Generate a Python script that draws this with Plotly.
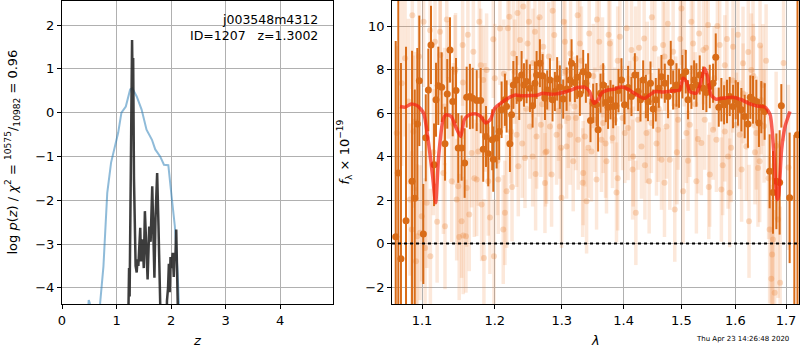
import plotly.graph_objects as go
import math

# ---------------- left panel: p(z) ----------------
blue_z = [0.40, 0.49, 0.51, 0.55, 0.66, 0.70, 0.76, 0.83, 0.90, 0.97, 1.03, 1.09, 1.17, 1.25, 1.29,
          1.37, 1.46, 1.55, 1.65, 1.71, 1.80, 1.87, 1.95, 2.01, 2.07, 2.12, 2.15, 2.20]
blue_logp = [-6, -4.28, -4.35, -6, -6, -4.34, -3.51, -1.83, -1.14, -0.77, -0.46, 0.0, 0.14, 0.53, 0.56,
             0.37, 0.07, -0.39, -0.62, -0.84, -1.0, -1.19, -1.2, -1.91, -2.6, -3.65, -4.34, -6]

black_z = [1.20, 1.225, 1.23, 1.24, 1.255, 1.27, 1.285, 1.295, 1.305, 1.32, 1.35, 1.37, 1.385, 1.40,
           1.415, 1.435, 1.45, 1.465, 1.48, 1.50, 1.52, 1.54, 1.57, 1.60, 1.625, 1.655, 1.68, 1.695,
           1.715, 1.745, 1.77, 1.79, 1.81, 1.83, 1.91, 1.925, 1.945, 1.96, 1.975, 1.99, 2.01, 2.03,
           2.05, 2.065, 2.08, 2.095, 2.11, 2.13, 2.15]
black_logp = [-6, -4.4, -3.55, -4.2, -2.0, 0.5, 1.66, 0.6, 1.25, -1.5, -3.5, -3.65, -3.35, -3.5,
              -3.0, -2.63, -3.4, -2.9, -2.95, -3.55, -2.25, -2.85, -3.81, -2.6, -2.95, -1.68, -3.0, -3.77,
              -2.4, -1.38, -2.6, -3.6, -4.3, -6, -6, -4.3, -4.0, -3.45, -4.1, -3.3, -3.55, -3.2,
              -3.75, -3.2, -3.3, -2.67, -3.6, -4.3, -6]

left_xticks = [0, 1, 2, 3, 4]
left_yticks = [-4, -3, -2, -1, 0, 1, 2]

# ---------------- right panel: spectrum ----------------
# binned (dark) spectrum
dark_wave = [1.0659, 1.0692, 1.0726, 1.0791, 1.0869, 1.0904, 1.0938, 1.0964, 1.1017, 1.1049, 1.1083,
             1.1118, 1.1159, 1.1185, 1.1216, 1.1261, 1.1306, 1.1337, 1.1374, 1.1411, 1.1456, 1.1487,
             1.1533, 1.1575, 1.1603, 1.1648, 1.1687, 1.1743, 1.1799, 1.1835, 1.1874, 1.1906, 1.1963,
             1.1978, 1.2026, 1.2063, 1.2098, 1.2146, 1.2171, 1.2219, 1.2243, 1.2269, 1.2318, 1.2356,
             1.2391, 1.2426, 1.2465, 1.2515, 1.2555, 1.2590, 1.2615, 1.2665, 1.2706, 1.2742, 1.2776,
             1.2818, 1.2858, 1.2894, 1.2929, 1.2971, 1.3023, 1.3076, 1.3128, 1.3154, 1.3206, 1.3242,
             1.3285, 1.3338, 1.3381, 1.3417, 1.3455, 1.3498, 1.3553, 1.3578, 1.3617, 1.3661, 1.3704,
             1.3741, 1.3781, 1.3825, 1.3869, 1.3913, 1.3963, 1.4014, 1.4074, 1.4131, 1.4188, 1.4243,
             1.4284, 1.4330, 1.4376, 1.4414, 1.4456, 1.4502, 1.4548, 1.4601, 1.4647, 1.4706, 1.4763,
             1.4811, 1.4853, 1.4912, 1.4958, 1.5019, 1.5079, 1.5120, 1.5181, 1.5230, 1.5272, 1.5333,
             1.5395, 1.5456, 1.5518, 1.5580, 1.5630, 1.5686, 1.5735, 1.5786, 1.5841, 1.5893, 1.5956,
             1.6007, 1.6051, 1.6116, 1.6180, 1.6243, 1.6290, 1.6342, 1.6407, 1.6458, 1.6505, 1.6571,
             1.6670, 1.6737, 1.6805, 1.6871, 1.6905, 1.7074, 1.7170, 1.7235]
dark_flux = [0.31, 3.24, -0.70, 1.05, 2.86, 2.08, 5.49, 7.48, 0.44, 4.86, 7.06,
             9.13, 3.62, 6.61, 7.25, 7.19, 4.59, 6.88, 8.90, 6.53, 7.03, 4.39,
             4.39, 3.70, 6.73, 6.76, 6.68, 6.57, 6.57, 4.34, 4.92, 4.13, 4.77,
             3.88, 4.85, 5.15, 6.15, 6.61, 6.30, 4.59, 5.92, 7.29, 7.52, 6.68,
             7.75, 7.29, 7.45, 7.14, 6.33, 7.37, 7.75, 8.29, 7.71, 6.68, 7.06,
             7.52, 6.61, 6.99, 7.57, 7.19, 6.64, 7.10, 7.52, 8.29, 7.40, 7.65,
             6.87, 7.90, 7.37, 7.75, 5.66, 6.45, 6.38, 5.23, 6.91, 7.29, 6.48,
             6.27, 6.61, 6.30, 6.33, 7.03, 7.52, 6.38, 7.17, 6.76, 7.75, 6.99,
             6.61, 7.52, 6.76, 6.53, 7.37, 6.18, 6.61, 7.14, 7.67, 7.37, 6.76,
             8.32, 7.06, 7.29, 7.14, 7.67, 7.90, 6.61, 7.19, 7.52, 7.29, 7.75,
             7.14, 6.94, 7.22, 7.37, 8.56, 6.27, 6.61, 6.38, 6.53, 6.76, 6.30,
             6.61, 6.42, 6.15, 5.84, 5.50, 6.73, 6.61, 6.53, 5.54, 6.27, 6.07,
             3.32, 2.35, 2.86, 2.81, 6.33, 2.10, -4.0, 5.0]
dark_err = [9.0, 9.0, 9.0, 8.0, 6.0, 5.0, 3.5, 3.0, 2.3, 2.0, 1.9,
            1.8, 1.9, 1.7, 1.8, 1.6, 1.7, 1.6, 1.5, 1.6, 1.5, 1.6,
            1.5, 1.6, 1.4, 1.5, 1.4, 1.4, 1.5, 1.5, 1.4, 1.5, 1.4,
            1.5, 1.4, 1.3, 1.3, 1.2, 1.2, 1.3, 1.2, 1.1, 1.1, 1.0,
            1.1, 1.0, 1.0, 1.1, 1.0, 1.0, 1.1, 1.1, 1.0, 1.0, 0.9,
            1.0, 1.0, 0.9, 1.0, 1.0, 0.9, 1.0, 1.0, 1.1, 0.9, 1.0,
            1.0, 1.0, 0.9, 1.0, 1.0, 0.9, 1.0, 1.0, 0.9, 1.0, 0.9,
            1.0, 0.9, 1.0, 0.9, 1.0, 1.0, 0.9, 1.0, 0.9, 1.0, 0.9,
            1.0, 0.9, 1.0, 0.9, 1.0, 0.9, 1.0, 0.9, 1.0, 0.9, 1.0,
            1.0, 0.9, 1.0, 0.9, 1.0, 1.0, 0.9, 1.0, 0.9, 1.0, 0.9,
            1.0, 0.9, 1.0, 0.9, 1.1, 0.9, 1.0, 0.9, 1.0, 0.9, 1.0,
            0.9, 1.0, 1.0, 1.0, 1.1, 1.0, 1.1, 1.0, 1.1, 1.2, 1.3,
            1.7, 1.9, 2.2, 2.4, 1.0, 3.0, 9.0, 8.0]

# individual-exposure (light) spectrum
light_wave = [1.0672, 1.0735, 1.0779, 1.0822, 1.0843, 1.0865, 1.0873, 1.0886, 1.0908, 1.0921, 1.0938,
              1.0973, 1.0995, 1.1040, 1.1062, 1.1106, 1.1110, 1.1172, 1.1239, 1.1243, 1.1284, 1.1306,
              1.1352, 1.1397, 1.1442, 1.1465, 1.1487, 1.1533, 1.1547, 1.1555, 1.1593, 1.1603, 1.1639,
              1.1672, 1.1696, 1.1743, 1.1766, 1.1812, 1.1835, 1.1845, 1.1883, 1.1906, 1.1978, 1.1988,
              1.2050, 1.2074, 1.2122, 1.2146, 1.2171, 1.2210, 1.2234, 1.2269, 1.2318, 1.2342, 1.2367,
              1.2416, 1.2441, 1.2480, 1.2515, 1.2555, 1.2590, 1.2615, 1.2640, 1.2680, 1.2716, 1.2742,
              1.2767, 1.2818, 1.2843, 1.2884, 1.2920, 1.2971, 1.2997, 1.3050, 1.3076, 1.3102, 1.3138,
              1.3180, 1.3222, 1.3259, 1.3285, 1.3338, 1.3365, 1.3392, 1.3434, 1.3471, 1.3526, 1.3553,
              1.3596, 1.3633, 1.3661, 1.3715, 1.3770, 1.3814, 1.3853, 1.3880, 1.3936, 1.3980, 1.4019,
              1.4074, 1.4131, 1.4160, 1.4205, 1.4243, 1.4301, 1.4347, 1.4387, 1.4433, 1.4473, 1.4531,
              1.4589, 1.4647, 1.4676, 1.4735, 1.4794, 1.4853, 1.4882, 1.4942, 1.5001, 1.5031, 1.5091,
              1.5151, 1.5211, 1.5272, 1.5321, 1.5363, 1.5425, 1.5487, 1.5518, 1.5580, 1.5642, 1.5704,
              1.5735, 1.5799, 1.5862, 1.5893, 1.5956, 1.6020, 1.6084, 1.6148, 1.6212, 1.6264, 1.6309,
              1.6342, 1.6407, 1.6440, 1.6473, 1.6538, 1.6670, 1.6704, 1.6737, 1.6771, 1.6838,
              1.2290, 1.2460, 1.2560, 1.2700, 1.2800, 1.2950, 1.3060, 1.3200, 1.3310, 1.3500, 1.3650,
              1.3800, 1.3900, 1.4100, 1.4200, 1.4400, 1.4600, 1.4700, 1.4900, 1.5050, 1.5250, 1.5400,
              1.5600, 1.5800, 1.5950, 1.6150, 1.6350, 1.6500, 1.1550, 1.1800, 1.2000, 1.1300, 1.1450,
              1.2130,
              1.0960, 1.1020, 1.1150, 1.1200, 1.1330, 1.1420, 1.1500, 1.1620, 1.1710, 1.1780, 1.1860,
              1.1930, 1.2040, 1.2190, 1.2250, 1.2330, 1.2400, 1.2500, 1.2600, 1.2660, 1.2750, 1.2860,
              1.2990, 1.3030, 1.3130, 1.3250, 1.3330, 1.3420, 1.3560, 1.3700, 1.3750, 1.3900, 1.4050,
              1.4150, 1.4260, 1.4360, 1.4480, 1.4560, 1.4700, 1.4760, 1.4920, 1.4980, 1.5120, 1.5180,
              1.5300, 1.5450, 1.5500, 1.5660, 1.5760, 1.5840, 1.5920, 1.6050, 1.6120, 1.6250, 1.6380,
              1.6480, 1.6560, 1.6600, 1.6650, 1.6720, 1.6800, 1.6880, 1.6950, 1.7050]
light_flux = [5.08, 7.37, 8.52, 6.53, 2.02, 0.64, 10.5, 5.15, 5.61, -0.81, 0.34,
              0.50, 1.25, -0.20, 1.87, 9.80, -0.58, 9.28, 9.74, 8.67, 3.24, 0.80,
              7.52, 2.86, 7.90, 2.02, 2.63, 1.02, 9.13, 0.37, 0.34, 2.55, 1.33,
              4.16, 8.82, 2.94, 4.23, 1.79, 7.52, -0.66, 7.98, 2.86, 9.39, -0.58,
              2.94, 9.89, 0.64, 1.41, 2.40, 10.43, 5.15, 8.74, 5.00, 3.55, 9.36,
              10.9, 3.93, 9.20, 5.38, 4.00, 9.74, 4.92, 8.13, 5.46, 9.05, 2.78,
              4.23, 5.38, 3.17, 9.59, 5.00, 5.38, 2.10, 9.28, 4.46, 5.77, 8.74,
              3.78, 5.77, 4.77, 9.20, 3.24, 4.92, 1.94, 9.66, 4.23, 5.69, 2.94,
              9.28, 4.77, 5.54, 3.78, 9.20, 4.85, 5.69, 2.35, 9.51, 5.77, 5.08,
              5.31, 8.90, 4.00, 1.41, 5.69, 4.46, 9.43, 5.08, 2.86, 5.54, 8.97,
              5.23, 3.85, 9.13, 5.38, 3.85, 8.82, 1.56, 5.69, 10.81, 2.40, 5.08,
              5.46, 9.20, 2.86, 9.66, 4.62, 5.69, 10.05, 3.17, 5.23, 4.77, 9.13,
              2.48, 5.15, 4.00, 2.33, 9.05, 5.46, 5.00, 8.29, 4.46, 1.02, 7.98,
              9.43, 5.08, 3.47, 3.78, 7.29, 0.64, -1.62, 0.18, -2.26, 1.10,
              7.9, 6.2, 8.3, 6.4, 8.6, 6.1, 7.9, 6.3, 8.4, 7.7, 8.1,
              7.0, 8.4, 6.1, 8.5, 7.9, 6.2, 8.6, 6.3, 8.8, 6.4, 8.9,
              7.6, 8.2, 7.5, 6.9, 7.7, 6.6, 7.4, 8.2, 7.6, 6.3, 8.0,
              7.8,
              8.6, 10.2, 4.2, 1.0, 10.3, 5.5, 0.3, 9.6, 3.0, 10.2, 5.8,
              1.2, 3.8, 9.9, 2.6, 10.6, 4.6, 10.2, 3.2, 10.4, 4.2, 10.7,
              4.4, 10.2, 5.0, 10.5, 2.8, 4.4, 10.3, 4.6, 9.6, 3.0, 9.9,
              3.4, 9.0, 3.6, 10.4, 4.6, 2.8, 10.1, 4.2, 9.4, 3.8, 10.2,
              4.8, 9.0, 2.6, 10.0, 3.6, 9.4, 4.4, 9.6, 3.4, 8.8, 4.2,
              9.1, 5.4, 8.4, 3.0, -0.5, 4.5, -1.8, 8.3, 3.5]
light_err = [4.0, 3.8, 3.6, 3.8, 3.5, 3.6, 3.4, 3.5, 3.2, 3.4, 3.3,
             3.1, 3.0, 3.2, 3.0, 2.9, 3.1, 2.8, 2.9, 2.7, 2.8, 2.9,
             2.7, 2.8, 2.6, 2.8, 2.7, 2.6, 2.8, 2.7, 2.6, 2.7, 2.6,
             2.5, 2.7, 2.6, 2.5, 2.6, 2.5, 2.7, 2.6, 2.5, 2.7, 2.6,
             2.5, 2.6, 2.5, 2.4, 2.6, 2.5, 2.4, 2.5, 2.4, 2.3, 2.5,
             2.4, 2.3, 2.5, 2.4, 2.3, 2.5, 2.4, 2.3, 2.4, 2.5, 2.3,
             2.4, 2.3, 2.4, 2.5, 2.3, 2.4, 2.3, 2.5, 2.4, 2.3, 2.4,
             2.3, 2.4, 2.3, 2.5, 2.4, 2.3, 2.4, 2.5, 2.3, 2.4, 2.3,
             2.5, 2.4, 2.3, 2.4, 2.5, 2.3, 2.4, 2.3, 2.5, 2.4, 2.3,
             2.4, 2.5, 2.3, 2.4, 2.3, 2.4, 2.5, 2.3, 2.4, 2.3, 2.5,
             2.4, 2.3, 2.5, 2.4, 2.3, 2.5, 2.4, 2.3, 2.6, 2.4, 2.3,
             2.4, 2.5, 2.4, 2.5, 2.4, 2.3, 2.6, 2.4, 2.3, 2.4, 2.5,
             2.4, 2.3, 2.4, 2.5, 2.5, 2.4, 2.5, 2.6, 2.5, 2.6, 2.6,
             2.7, 2.6, 2.7, 2.8, 2.8, 3.4, 3.6, 3.5, 3.8, 3.6,
             2.4, 2.3, 2.5, 2.4, 2.5, 2.3, 2.4, 2.3, 2.5, 2.4, 2.3,
             2.4, 2.5, 2.3, 2.4, 2.3, 2.4, 2.5, 2.3, 2.5, 2.4, 2.5,
             2.4, 2.3, 2.4, 2.3, 2.4, 2.5, 2.6, 2.6, 2.5, 2.7, 2.6,
             2.5,
             3.2, 3.0, 2.9, 2.8, 2.7, 2.8, 2.9, 2.6, 2.7, 2.6, 2.5,
             2.6, 2.5, 2.6, 2.5, 2.4, 2.5, 2.4, 2.6, 2.4, 2.5, 2.3,
             2.4, 2.5, 2.3, 2.4, 2.5, 2.3, 2.4, 2.5, 2.3, 2.4, 2.5,
             2.3, 2.4, 2.5, 2.3, 2.4, 2.5, 2.3, 2.4, 2.5, 2.3, 2.4,
             2.5, 2.3, 2.4, 2.5, 2.3, 2.4, 2.5, 2.3, 2.4, 2.5, 2.4,
             2.5, 2.6, 2.6, 2.8, 3.2, 3.4, 3.5, 3.6, 3.8]

# best-fit model
model_wave = [1.0714, 1.078, 1.086, 1.094, 1.102, 1.108, 1.114, 1.118, 1.122, 1.128, 1.132, 1.139,
              1.145, 1.152, 1.157, 1.164, 1.173, 1.180, 1.187, 1.194, 1.200, 1.212, 1.222, 1.230,
              1.240, 1.252, 1.262, 1.271, 1.282, 1.292, 1.302, 1.312, 1.325, 1.336, 1.344, 1.351,
              1.358, 1.363, 1.374, 1.385, 1.393, 1.404, 1.416, 1.427, 1.435, 1.444, 1.453, 1.467,
              1.485, 1.497, 1.503, 1.509, 1.515, 1.527, 1.535, 1.542, 1.548, 1.554, 1.563, 1.576,
              1.595, 1.612, 1.628, 1.641, 1.658, 1.668, 1.675, 1.682, 1.685, 1.691, 1.698, 1.708]
model_flux = [6.30, 6.27, 6.42, 6.33, 6.00, 4.77, 3.09, 1.87, 4.00, 5.69, 5.92, 5.84,
              5.38, 4.92, 5.69, 5.92, 5.96, 5.84, 5.54, 5.72, 6.22, 6.53, 6.73, 6.83,
              6.79, 6.80, 6.82, 6.91, 6.87, 6.88, 6.94, 7.03, 7.17, 7.19, 6.99, 6.45,
              6.61, 6.91, 7.06, 7.10, 7.19, 7.14, 6.94, 6.76, 6.67, 6.83, 6.99, 6.97,
              7.02, 7.06, 7.60, 7.45, 6.99, 6.91, 7.37, 8.06, 7.67, 6.83, 6.64, 6.68,
              6.73, 6.61, 6.42, 6.33, 6.27, 5.92, 4.31, 2.02, 2.20, 4.31, 5.38, 6.07]

right_xticks = [1.1, 1.2, 1.3, 1.4, 1.5, 1.6, 1.7]
right_yticks = [-2, 0, 2, 4, 6, 8, 10]

DARK = "rgb(217,108,24)"
FONT = "DejaVu Sans"

fig = go.Figure()

# left panel
fig.add_trace(go.Scatter(x=blue_z, y=blue_logp, mode="lines",
                         line=dict(color="rgba(31,119,180,0.5)", width=2),
                         xaxis="x", yaxis="y", showlegend=False))
fig.add_trace(go.Scatter(x=black_z, y=black_logp, mode="lines",
                         line=dict(color="rgba(40,40,40,0.9)", width=2.5),
                         xaxis="x", yaxis="y", showlegend=False))

# right panel
fig.add_trace(go.Scatter(x=light_wave, y=light_flux, mode="markers",
                         marker=dict(color="rgba(235,130,50,0.28)", size=6),
                         error_y=dict(type="data", array=light_err, thickness=3.5, width=0,
                                      color="rgba(240,140,70,0.2)"),
                         xaxis="x2", yaxis="y2", showlegend=False))
fig.add_trace(go.Scatter(x=dark_wave, y=dark_flux, mode="markers",
                         marker=dict(color=DARK, size=7),
                         error_y=dict(type="data", array=dark_err, thickness=2, width=0, color=DARK),
                         xaxis="x2", yaxis="y2", showlegend=False))
fig.add_trace(go.Scatter(x=model_wave, y=model_flux, mode="lines",
                         line=dict(color="rgba(245,35,20,0.72)", width=3.5, shape="spline", smoothing=0.6),
                         xaxis="x2", yaxis="y2", showlegend=False))

fig.add_shape(type="line", xref="x2 domain", yref="y2", x0=0, x1=1, y0=0, y1=0,
              line=dict(color="black", width=2, dash="dot"), layer="above")

axis_common = dict(showline=True, mirror=True, linecolor="black", linewidth=1,
                   ticks="outside", ticklen=4, tickcolor="black",
                   showgrid=True, gridcolor="#b0b0b0", gridwidth=1, zeroline=False,
                   automargin=False,
                   tickfont=dict(family=FONT, size=13, color="black"))

lo = math.log10(1.0612)
hi = math.log10(1.7266)

fig.update_layout(
    width=800, height=350,
    margin=dict(l=62, r=1, t=1, b=46, autoexpand=False),
    paper_bgcolor="white", plot_bgcolor="white",
    xaxis=dict(domain=[0, 0.3677], range=[0, 4.97], tickvals=left_xticks, anchor="y", **axis_common),
    yaxis=dict(domain=[0, 1], range=[-4.37, 2.55], tickvals=left_yticks, anchor="x", **axis_common),
    xaxis2=dict(domain=[0.4478, 1], type="log", range=[lo, hi], tickvals=right_xticks,
                ticktext=[str(v) for v in right_xticks], anchor="y2", **axis_common),
    yaxis2=dict(domain=[0, 1], range=[-2.78, 11.15], tickvals=right_yticks, anchor="x2", **axis_common),
)

ann_font = dict(family=FONT, size=13, color="black")
fig.add_annotation(text="log <i>p</i>(<i>z</i>) / <i>χ</i><sup>2</sup> = <sup>10575</sup>/<sub>10982</sub> = 0.96",
                   xref="paper", yref="paper", x=(12 - 62) / 737, y=0.5, textangle=-90,
                   showarrow=False, font=ann_font, xanchor="center", yanchor="middle")
fig.add_annotation(text="<i>f</i><sub>λ</sub> × 10<sup>−19</sup>",
                   xref="paper", yref="paper", x=(344 - 62) / 737, y=0.5, textangle=-90,
                   showarrow=False, font=ann_font, xanchor="center", yanchor="middle")
fig.add_annotation(text="<i>z</i>", xref="paper", yref="paper", x=(197 - 62) / 737, y=(304 - 340) / 303,
                   showarrow=False, font=ann_font, xanchor="center", yanchor="middle")
fig.add_annotation(text="<i>λ</i>", xref="paper", yref="paper", x=(595 - 62) / 737, y=(304 - 340) / 303,
                   showarrow=False, font=ann_font, xanchor="center", yanchor="middle")
fig.add_annotation(text="j003548m4312", xref="paper", yref="paper", x=(320 - 62) / 737, y=(304 - 19) / 303,
                   showarrow=False, font=dict(family=FONT, size=12.5, color="black"),
                   xanchor="right", yanchor="middle")
fig.add_annotation(text="ID=1207   z=1.3002", xref="paper", yref="paper", x=(320 - 62) / 737,
                   y=(304 - 35) / 303, showarrow=False, font=dict(family=FONT, size=12.5, color="black"),
                   xanchor="right", yanchor="middle")
fig.add_annotation(text="Thu Apr 23 14:26:48 2020", xref="paper", yref="paper", x=(742 - 62) / 737,
                   y=(304 - 339) / 303, showarrow=False, font=dict(family=FONT, size=7, color="black"),
                   xanchor="center", yanchor="middle")

fig.write_html("out.html", config={"displayModeBar": False},
               post_script="document.body.style.margin='0';document.body.style.padding='0';")
